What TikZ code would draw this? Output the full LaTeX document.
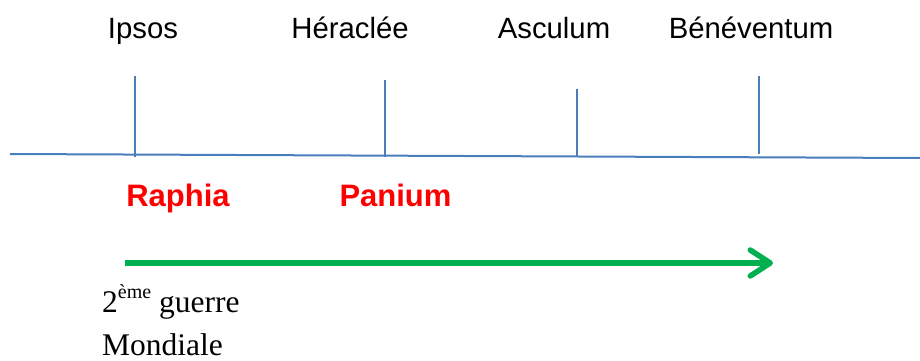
\documentclass[tikz,border=0pt]{standalone}
\usepackage{fontspec}
\setmainfont{Liberation Serif}
\newfontfamily\arialf{Liberation Sans}
\usetikzlibrary{arrows.meta}
\definecolor{axisblue}{HTML}{4A7EBB}
\definecolor{arrowgreen}{HTML}{00B050}
\definecolor{battlered}{HTML}{FF0000}
\tikzset{
  axisline/.style={draw=axisblue, line width=2pt},
  tickline/.style={draw=axisblue, line width=1.8pt},
  toplabel/.style={anchor=base, inner sep=0pt, font=\arialf\fontsize{29.3}{36}\selectfont},
  redlabel/.style={anchor=base, inner sep=0pt, text=battlered, font=\arialf\bfseries\fontsize{31}{36}\selectfont},
  notelabel/.style={anchor=base west, inner sep=0pt, align=left, font=\fontsize{31.5}{43}\selectfont},
  greenarrow/.style={draw=arrowgreen, line width=5.5pt, -{Straight Barb[length=20pt,width=26pt,line cap=round,line join=round]}}
}
\newcommand{\supx}[1]{\raisebox{0.42em}{\fontsize{20}{20}\selectfont #1}}
\begin{document}
\begin{tikzpicture}[x=1pt,y=-1pt]
\useasboundingbox (0,0) rectangle (920,361);
% axis
\coordinate (axL) at (10,154);
\coordinate (axR) at (920,158);
\draw[axisline] (axL) -- (axR);
% ticks
\coordinate (t1a) at (135,76);  \coordinate (t1b) at (135,157);
\coordinate (t2a) at (385,80);  \coordinate (t2b) at (385,157);
\coordinate (t3a) at (577,89);  \coordinate (t3b) at (577,156);
\coordinate (t4a) at (759,76);  \coordinate (t4b) at (759,154);
\draw[tickline] (t1a) -- (t1b);
\draw[tickline] (t2a) -- (t2b);
\draw[tickline] (t3a) -- (t3b);
\draw[tickline] (t4a) -- (t4b);
% top labels
\node[toplabel] (ipsos) at (143,39) {Ipsos};
\node[toplabel] (heraclee) at (350,39) {Héraclée};
\node[toplabel] (asculum) at (554,39) {Asculum};
\node[toplabel] (benevent) at (751,39) {Bénéventum};
% red labels
\node[redlabel] (raphia) at (178,206) {Raphia};
\node[redlabel] (panium) at (395.5,206) {Panium};
% green arrow
\coordinate (gA) at (125,263);
\coordinate (gB) at (773,263);
\draw[greenarrow] (gA) -- (gB);
% note
\node[notelabel] (note) at (102,355) {2\supx{ème} guerre\\Mondiale};
\end{tikzpicture}
\end{document}
